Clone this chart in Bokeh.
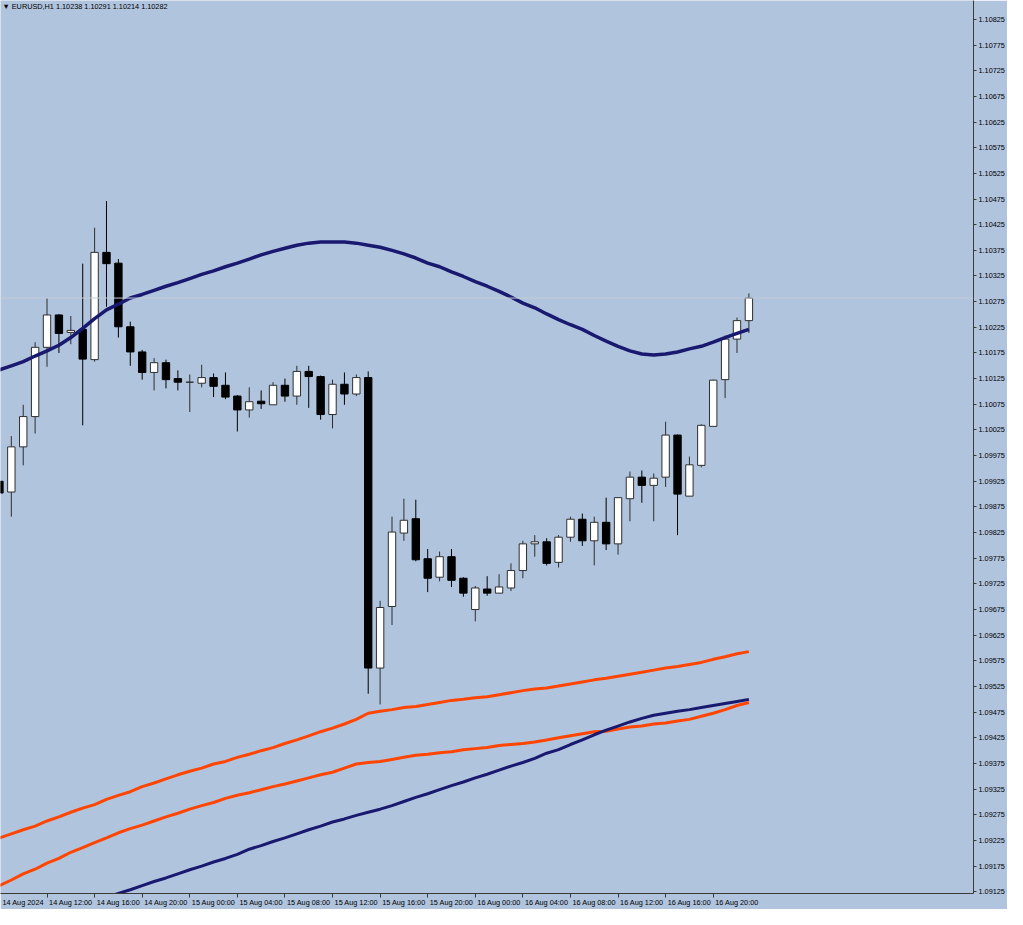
from bokeh.plotting import figure
from bokeh.models import (LinearAxis, FixedTicker, PrintfTickFormatter,
                          Range1d, Span, Label)
from bokeh.embed import file_html
from bokeh.resources import INLINE

# ---------------- data (EURUSD, H1, bars from 14 Aug 2024 08:00) ----------------
symbol = "EURUSD,H1"
bar_index = list(range(-1, 63))

open_ = [1.09925, 1.09904, 1.09992, 1.10051, 1.10186, 1.10249, 1.10215, 1.10221,
         1.10162, 1.10371, 1.10350, 1.10226, 1.10177, 1.10137, 1.10156, 1.10125,
         1.10118, 1.10116, 1.10127, 1.10112, 1.10091, 1.10064, 1.10081, 1.10074,
         1.10112, 1.10091, 1.10139, 1.10129, 1.10055, 1.10114, 1.10095, 1.10127,
         1.09561, 1.09681, 1.09824, 1.09852, 1.09774, 1.09738, 1.09778, 1.09736,
         1.09675, 1.09715, 1.09707, 1.09717, 1.09751, 1.09803, 1.09807, 1.09767,
         1.09816, 1.09851, 1.09809, 1.09845, 1.09803, 1.09891, 1.09933, 1.09917,
         1.09933, 1.10015, 1.09896, 1.09956, 1.10032, 1.10123, 1.10202, 1.10238]
high = [1.09936, 1.10013, 1.10074, 1.10196, 1.10282, 1.10251, 1.10247, 1.10349,
        1.10419, 1.10471, 1.10358, 1.10236, 1.10181, 1.10165, 1.10162, 1.10141,
        1.10133, 1.10152, 1.10135, 1.10137, 1.10093, 1.10108, 1.10102, 1.10118,
        1.10125, 1.10150, 1.10150, 1.10131, 1.10123, 1.10137, 1.10133, 1.10139,
        1.09692, 1.09856, 1.09891, 1.09889, 1.09793, 1.09788, 1.09793, 1.09738,
        1.09721, 1.09740, 1.09744, 1.09765, 1.09809, 1.09820, 1.09814, 1.09820,
        1.09856, 1.09862, 1.09856, 1.09893, 1.09894, 1.09944, 1.09946, 1.09940,
        1.10041, 1.10016, 1.09973, 1.10036, 1.10123, 1.10209, 1.10244, 1.10291]
low = [1.09889, 1.09856, 1.09956, 1.10018, 1.10148, 1.10175, 1.10192, 1.10034,
       1.10158, 1.10265, 1.10205, 1.10150, 1.10123, 1.10102, 1.10106, 1.10102,
       1.10060, 1.10108, 1.10089, 1.10085, 1.10022, 1.10049, 1.10066, 1.10074,
       1.10080, 1.10074, 1.10068, 1.10045, 1.10028, 1.10074, 1.10091, 1.09511,
       1.09490, 1.09645, 1.09809, 1.09769, 1.09709, 1.09730, 1.09719, 1.09700,
       1.09652, 1.09702, 1.09707, 1.09711, 1.09736, 1.09778, 1.09761, 1.09757,
       1.09807, 1.09799, 1.09761, 1.09791, 1.09782, 1.09847, 1.09883, 1.09847,
       1.09914, 1.09820, 1.09896, 1.09952, 1.10032, 1.10087, 1.10175, 1.10214]
close = [1.09902, 1.09992, 1.10051, 1.10186, 1.10249, 1.10213, 1.10219, 1.10163,
         1.10371, 1.10349, 1.10226, 1.10177, 1.10137, 1.10156, 1.10123, 1.10118,
         1.10118, 1.10127, 1.10110, 1.10089, 1.10064, 1.10080, 1.10076, 1.10112,
         1.10091, 1.10139, 1.10129, 1.10055, 1.10114, 1.10095, 1.10127, 1.09561,
         1.09679, 1.09826, 1.09849, 1.09772, 1.09736, 1.09778, 1.09732, 1.09707,
         1.09717, 1.09707, 1.09719, 1.09751, 1.09803, 1.09807, 1.09765, 1.09816,
         1.09851, 1.09809, 1.09845, 1.09803, 1.09893, 1.09933, 1.09917, 1.09931,
         1.10015, 1.09900, 1.09957, 1.10034, 1.10122, 1.10202, 1.10238, 1.10282]

# moving averages / envelopes, one value per bar
ma_slow_high = [1.10142, 1.10150, 1.10158, 1.10169, 1.10179, 1.10190, 1.10205, 1.10223,
                1.10242, 1.10259, 1.10270, 1.10282, 1.10289, 1.10297, 1.10305, 1.10312,
                1.10320, 1.10328, 1.10335, 1.10343, 1.10350, 1.10358, 1.10366, 1.10373,
                1.10379, 1.10385, 1.10389, 1.10391, 1.10391, 1.10391, 1.10389, 1.10385,
                1.10381, 1.10375, 1.10368, 1.10360, 1.10350, 1.10343, 1.10333, 1.10324,
                1.10314, 1.10305, 1.10295, 1.10284, 1.10272, 1.10263, 1.10251, 1.10240,
                1.10230, 1.10221, 1.10209, 1.10198, 1.10188, 1.10179, 1.10173, 1.10171,
                1.10173, 1.10177, 1.10183, 1.10188, 1.10196, 1.10205, 1.10213, 1.10221]
ma_long = [1.09042, 1.09049, 1.09057, 1.09066, 1.09074, 1.09082, 1.09089, 1.09099,
           1.09106, 1.09114, 1.09122, 1.09129, 1.09137, 1.09145, 1.09152, 1.09160,
           1.09168, 1.09175, 1.09183, 1.09190, 1.09198, 1.09208, 1.09215, 1.09223,
           1.09230, 1.09238, 1.09246, 1.09253, 1.09261, 1.09267, 1.09274, 1.09280,
           1.09286, 1.09293, 1.09301, 1.09309, 1.09316, 1.09324, 1.09332, 1.09339,
           1.09347, 1.09354, 1.09362, 1.09370, 1.09377, 1.09385, 1.09395, 1.09402,
           1.09412, 1.09421, 1.09431, 1.09440, 1.09448, 1.09456, 1.09463, 1.09469,
           1.09473, 1.09477, 1.09480, 1.09484, 1.09488, 1.09492, 1.09496, 1.09500]
env_upper = [1.09230, 1.09238, 1.09246, 1.09253, 1.09263, 1.09271, 1.09280, 1.09288,
             1.09295, 1.09305, 1.09313, 1.09320, 1.09330, 1.09337, 1.09345, 1.09353,
             1.09360, 1.09366, 1.09374, 1.09379, 1.09387, 1.09393, 1.09400, 1.09406,
             1.09414, 1.09421, 1.09429, 1.09437, 1.09444, 1.09452, 1.09461, 1.09473,
             1.09477, 1.09480, 1.09484, 1.09486, 1.09490, 1.09494, 1.09498, 1.09500,
             1.09503, 1.09505, 1.09509, 1.09513, 1.09517, 1.09520, 1.09522, 1.09526,
             1.09530, 1.09534, 1.09538, 1.09541, 1.09545, 1.09549, 1.09553, 1.09557,
             1.09561, 1.09564, 1.09568, 1.09572, 1.09578, 1.09583, 1.09589, 1.09593]
env_lower = [1.09137, 1.09148, 1.09160, 1.09169, 1.09181, 1.09190, 1.09202, 1.09211,
             1.09221, 1.09230, 1.09240, 1.09248, 1.09255, 1.09263, 1.09271, 1.09278,
             1.09286, 1.09293, 1.09299, 1.09307, 1.09313, 1.09318, 1.09324, 1.09330,
             1.09335, 1.09341, 1.09347, 1.09353, 1.09358, 1.09366, 1.09374, 1.09377,
             1.09379, 1.09383, 1.09387, 1.09391, 1.09393, 1.09396, 1.09398, 1.09402,
             1.09404, 1.09406, 1.09410, 1.09412, 1.09414, 1.09417, 1.09421, 1.09425,
             1.09429, 1.09433, 1.09437, 1.09438, 1.09442, 1.09446, 1.09448, 1.09452,
             1.09454, 1.09458, 1.09461, 1.09467, 1.09473, 1.09480, 1.09488, 1.09494]

time_ticks = [-1, 3, 7, 11, 15, 19, 23, 27, 31, 35, 39, 43, 47, 51, 55, 59]
time_labels = ["14 Aug 2024", "14 Aug 12:00", "14 Aug 16:00", "14 Aug 20:00",
               "15 Aug 00:00", "15 Aug 04:00", "15 Aug 08:00", "15 Aug 12:00",
               "15 Aug 16:00", "15 Aug 20:00", "16 Aug 00:00", "16 Aug 04:00",
               "16 Aug 08:00", "16 Aug 12:00", "16 Aug 16:00", "16 Aug 20:00"]
price_ticks = [round(1.09125 + 0.0005 * i, 5) for i in range(35)]
bid_price = close[-1]

# ---------------- styling ----------------
BG = "#B0C4DE"
AX = "#3a3a3a"
FONT = "Liberation Sans"
FS = "7.3px"
NAVY = "#191970"
ORANGE = "#FF4500"

p = figure(width=1007, height=909, output_backend="svg", toolbar_location=None,
           x_range=Range1d(-0.91, 80.88), y_range=Range1d(1.091217, 1.108618),
           x_axis_location=None, y_axis_location="right", tools="")
p.min_border = 0
p.min_border_left = 0
p.min_border_top = 0
p.min_border_bottom = 0
p.min_border_right = 0
p.background_fill_color = BG
p.border_fill_color = BG
p.outline_line_color = None
p.grid.visible = False

# right price axis
ya = p.yaxis[0]
ya.ticker = FixedTicker(ticks=price_ticks)
ya.formatter = PrintfTickFormatter(format="%.5f")
ya.axis_line_color = AX
ya.major_tick_line_color = AX
ya.major_tick_in = 0
ya.major_tick_out = 3
ya.minor_tick_line_color = None
ya.major_label_standoff = 2
ya.major_label_text_font = FONT
ya.major_label_text_font_size = FS
ya.major_label_text_color = "black"

# bottom time axis: tick marks only (labels not drawn)
tick_axis = LinearAxis(ticker=FixedTicker(ticks=time_ticks),
                       axis_line_color=AX, major_tick_line_color=AX,
                       major_tick_in=0, major_tick_out=4,
                       minor_tick_line_color=None,
                       major_label_text_color=None,
                       major_label_text_font_size="1px",
                       major_label_standoff=0)
p.add_layout(tick_axis, "below")
# bottom time axis: labels placed to the right of each tick
label_pos = [t + 2 for t in time_ticks]
label_axis = LinearAxis(ticker=FixedTicker(ticks=label_pos),
                        major_label_overrides=dict(zip(label_pos, time_labels)),
                        axis_line_color=None, major_tick_line_color=None,
                        major_tick_in=0, major_tick_out=0,
                        minor_tick_line_color=None,
                        major_label_standoff=0,
                        major_label_text_font=FONT,
                        major_label_text_font_size=FS,
                        major_label_text_color="black")
p.add_layout(label_axis, "below")

# bid line
p.add_layout(Span(location=bid_price, dimension="width",
                  line_color="#c6cdd6", line_width=1))

# candles
bull = [c >= o for o, c in zip(open_, close)]
body_top = [max(o, c) for o, c in zip(open_, close)]
body_bot = [min(o, c) for o, c in zip(open_, close)]
fill = ["white" if b else "black" for b in bull]
edge = ["#2e2e2e" if b else "black" for b in bull]

p.segment(x0=bar_index, y0=low, x1=bar_index, y1=high, line_color=edge, line_width=1)
p.vbar(x=bar_index, width=0.62, top=body_top, bottom=body_bot,
       fill_color=fill, line_color=edge, line_width=1)

# indicator lines
p.line(bar_index, env_upper, line_color=ORANGE, line_width=3)
p.line(bar_index, env_lower, line_color=ORANGE, line_width=3)
p.line(bar_index, ma_long, line_color=NAVY, line_width=3)
p.line(bar_index, ma_slow_high, line_color=NAVY, line_width=3.5)

# header text
header = "\u25BC {}  {:.5f} {:.5f} {:.5f} {:.5f}".format(
    symbol, open_[-1], high[-1], low[-1], close[-1])
p.add_layout(Label(x=-0.91, y=1.108618, x_offset=2, y_offset=-1, text=header,
                   text_font=FONT, text_font_size=FS, text_color="black",
                   text_baseline="top", text_align="left"))

# bid price tag on the axis
p.add_layout(Label(x=80.88, y=bid_price, x_offset=1, text="{:.5f}".format(bid_price),
                   text_font=FONT, text_font_size=FS, text_color="white",
                   text_baseline="middle", text_align="left",
                   background_fill_color="black", padding=2))

open("out.html", "w").write(file_html(p, INLINE))
